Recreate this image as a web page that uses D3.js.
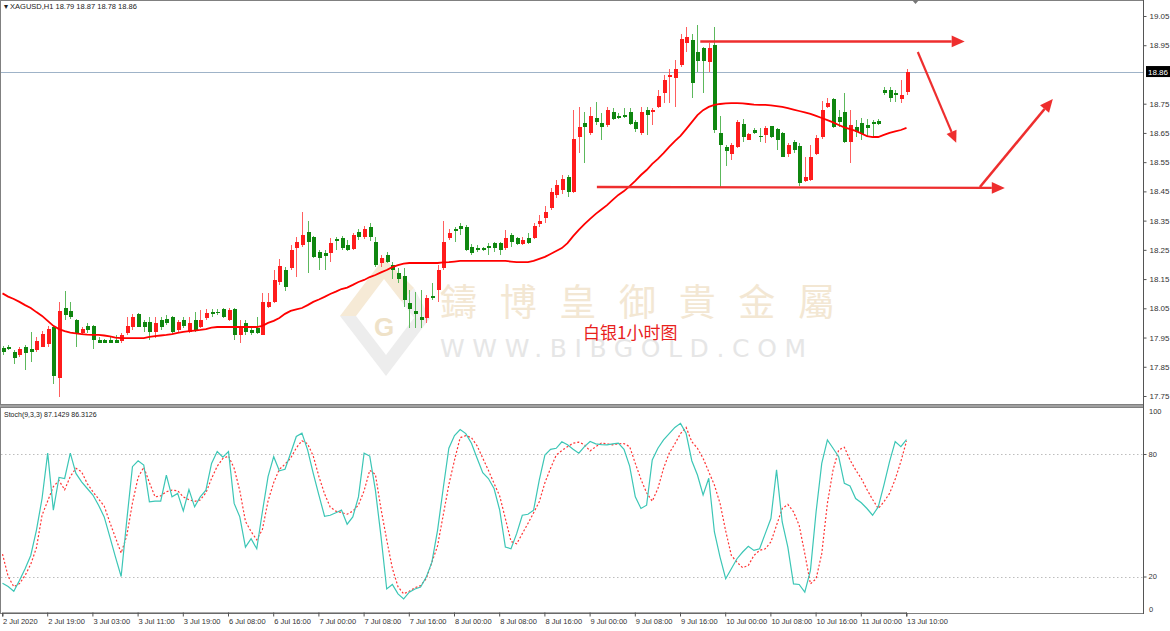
<!DOCTYPE html>
<html>
<head>
<meta charset="utf-8">
<script src="https://cdn.jsdelivr.net/npm/d3@7"></script>
<style>
html, body { margin: 0; padding: 0; background: #fff; }
svg { display: block; font-family: "Liberation Sans", Arial, sans-serif; }
</style>
</head>
<body>
<svg id="chart"></svg>
<script>
// bar labels every 8 bars
const timeLabels = ["2 Jul 2020", "2 Jul 19:00", "3 Jul 03:00", "3 Jul 11:00", "3 Jul 19:00", "6 Jul 08:00",
    "6 Jul 16:00", "7 Jul 00:00", "7 Jul 08:00", "7 Jul 16:00", "8 Jul 00:00", "8 Jul 08:00", "8 Jul 16:00",
    "9 Jul 00:00", "9 Jul 08:00", "9 Jul 16:00", "10 Jul 00:00", "10 Jul 08:00", "10 Jul 16:00", "11 Jul 00:00",
    "13 Jul 10:00"];

const opens = [17.915,17.919,17.902,17.890,17.919,17.911,17.907,17.919,17.928,17.987,
    17.811,18.050,18.041,18.010,17.967,17.990,17.990,17.942,17.942,17.942,
    17.942,17.938,17.967,17.985,18.029,18.004,18.002,17.970,18.010,18.012,
    18.021,17.976,18.010,17.970,18.010,17.987,18.018,18.039,18.039,18.048,
    18.010,18.048,17.959,18.001,17.976,17.982,17.959,18.056,18.073,18.140,
    18.181,18.187,18.255,18.267,18.310,18.295,18.244,18.238,18.238,18.286,
    18.289,18.267,18.252,18.312,18.295,18.329,18.278,18.204,18.232,18.198,
    18.172,18.161,18.069,18.041,18.021,18.016,18.092,18.113,18.187,18.289,
    18.320,18.332,18.329,18.261,18.255,18.258,18.263,18.272,18.272,18.255,
    18.301,18.289,18.270,18.289,18.289,18.338,18.358,18.392,18.438,18.455,
    18.500,18.449,18.637,18.683,18.649,18.700,18.683,18.677,18.720,18.708,
    18.711,18.723,18.689,18.649,18.729,18.720,18.737,18.786,18.840,18.837,
    18.882,18.959,18.968,18.928,18.940,18.891,18.951,18.651,18.601,18.578,
    18.601,18.681,18.626,18.660,18.640,18.643,18.672,18.662,18.649,18.578,
    18.620,18.605,18.487,18.489,18.578,18.635,18.740,18.765,18.706,18.720,
    18.620,18.671,18.683,18.677,18.689,18.692,18.797,18.797,18.786,18.765,
    18.790];
const highs = [17.921,17.925,17.907,17.917,17.925,17.970,17.953,17.972,17.990,17.990,
    18.073,18.110,18.073,18.012,17.987,18.001,17.993,17.953,17.945,17.953,
    17.959,17.964,18.021,18.031,18.033,18.010,18.021,18.019,18.021,18.027,
    18.024,18.010,18.021,18.021,18.039,18.044,18.047,18.047,18.048,18.050,
    18.050,18.050,18.010,18.010,17.982,18.021,18.101,18.101,18.181,18.220,
    18.190,18.266,18.295,18.381,18.350,18.298,18.249,18.249,18.289,18.295,
    18.298,18.284,18.309,18.323,18.332,18.341,18.295,18.232,18.244,18.209,
    18.187,18.187,18.113,18.107,18.113,18.095,18.135,18.198,18.350,18.323,
    18.327,18.341,18.335,18.269,18.267,18.261,18.272,18.278,18.278,18.318,
    18.309,18.295,18.295,18.309,18.341,18.369,18.400,18.460,18.489,18.506,
    18.506,18.728,18.738,18.723,18.740,18.757,18.717,18.740,18.734,18.717,
    18.734,18.734,18.694,18.740,18.740,18.734,18.797,18.848,18.868,18.900,
    18.988,19.013,18.988,19.019,18.945,18.959,19.013,18.708,18.609,18.614,
    18.694,18.697,18.649,18.666,18.666,18.672,18.674,18.666,18.654,18.617,
    18.626,18.614,18.569,18.609,18.643,18.760,18.768,18.768,18.728,18.788,
    18.728,18.694,18.700,18.697,18.694,18.697,18.808,18.808,18.797,18.831,
    18.870];
const lows = [17.890,17.907,17.860,17.882,17.839,17.867,17.902,17.917,17.919,17.791,
    17.748,18.010,18.012,17.919,17.959,17.964,17.910,17.930,17.930,17.930,
    17.930,17.933,17.959,17.976,17.985,17.970,17.942,17.947,17.976,17.993,
    17.964,17.970,17.982,17.964,17.970,17.982,18.010,18.021,18.027,18.016,
    18.008,17.942,17.933,17.959,17.959,17.962,17.959,18.050,18.067,18.130,
    18.110,18.181,18.158,18.259,18.170,18.221,18.181,18.181,18.209,18.249,
    18.249,18.247,18.249,18.284,18.286,18.281,18.190,18.192,18.204,18.149,
    18.135,18.055,17.982,17.982,17.982,17.999,18.078,18.073,18.181,18.284,
    18.278,18.301,18.247,18.232,18.241,18.247,18.232,18.244,18.232,18.249,
    18.261,18.267,18.267,18.270,18.286,18.329,18.341,18.386,18.426,18.440,
    18.430,18.443,18.583,18.548,18.643,18.677,18.626,18.671,18.694,18.697,
    18.700,18.677,18.654,18.643,18.643,18.677,18.734,18.751,18.751,18.737,
    18.877,18.928,18.768,18.860,18.788,18.860,18.649,18.460,18.537,18.557,
    18.597,18.620,18.626,18.646,18.620,18.614,18.632,18.592,18.567,18.569,
    18.580,18.468,18.483,18.487,18.574,18.628,18.734,18.666,18.671,18.617,
    18.546,18.635,18.626,18.635,18.632,18.677,18.780,18.757,18.757,18.751,
    18.780];
const closes = [17.902,17.910,17.879,17.910,17.898,17.899,17.938,17.961,17.978,17.819,
    18.041,18.027,18.021,17.964,17.979,17.976,17.942,17.933,17.933,17.933,
    17.933,17.959,17.990,18.021,17.987,17.987,17.970,18.001,17.987,17.999,
    17.970,18.004,17.990,18.001,17.976,18.010,18.033,18.029,18.035,18.021,
    18.044,17.959,17.987,17.970,17.964,17.967,18.073,18.073,18.147,18.195,
    18.124,18.249,18.278,18.301,18.278,18.227,18.221,18.230,18.272,18.281,
    18.255,18.249,18.301,18.293,18.320,18.295,18.198,18.221,18.210,18.181,
    18.149,18.078,18.046,18.031,18.010,18.084,18.088,18.181,18.278,18.309,
    18.316,18.320,18.249,18.238,18.249,18.251,18.259,18.255,18.249,18.289,
    18.278,18.270,18.284,18.272,18.332,18.350,18.381,18.449,18.472,18.491,
    18.449,18.630,18.671,18.671,18.708,18.689,18.671,18.729,18.697,18.700,
    18.706,18.680,18.663,18.720,18.711,18.729,18.778,18.831,18.848,18.868,
    18.970,18.979,18.820,18.897,18.897,18.940,18.660,18.609,18.589,18.609,
    18.689,18.637,18.646,18.649,18.635,18.666,18.637,18.626,18.569,18.609,
    18.592,18.478,18.500,18.569,18.632,18.728,18.751,18.671,18.689,18.620,
    18.677,18.654,18.646,18.666,18.681,18.681,18.786,18.768,18.782,18.780,
    18.860];

// moving average
const maValues = [18.101,18.090,18.082,18.072,18.061,18.051,18.037,18.024,18.007,17.990,
    17.979,17.972,17.967,17.964,17.962,17.960,17.959,17.959,17.957,17.954,
    17.950,17.948,17.948,17.948,17.948,17.948,17.952,17.955,17.957,17.959,
    17.962,17.966,17.969,17.972,17.974,17.976,17.979,17.984,17.986,17.986,
    17.986,17.986,17.986,17.986,17.986,17.986,17.990,18.000,18.007,18.017,
    18.031,18.041,18.046,18.051,18.061,18.072,18.080,18.089,18.099,18.107,
    18.116,18.121,18.130,18.140,18.147,18.157,18.164,18.173,18.181,18.191,
    18.198,18.203,18.205,18.205,18.205,18.205,18.205,18.205,18.207,18.208,
    18.210,18.212,18.212,18.212,18.212,18.212,18.212,18.212,18.212,18.212,
    18.210,18.208,18.208,18.208,18.212,18.219,18.226,18.236,18.246,18.256,
    18.273,18.297,18.318,18.338,18.356,18.373,18.388,18.403,18.421,18.438,
    18.451,18.468,18.486,18.506,18.523,18.544,18.561,18.581,18.602,18.622,
    18.640,18.663,18.687,18.711,18.728,18.739,18.746,18.749,18.751,18.752,
    18.752,18.751,18.749,18.747,18.746,18.746,18.744,18.742,18.739,18.735,
    18.730,18.725,18.720,18.715,18.708,18.701,18.694,18.686,18.677,18.669,
    18.663,18.657,18.648,18.639,18.636,18.636,18.643,18.650,18.655,18.660,
    18.667];

// Stoch(9,3,3) main and signal
const stochK = [16.7,15.1,12.8,18.0,23.8,30.3,42.6,58.2,80.4,52.5,
    68.5,68.0,80.4,70.5,66.4,63.1,59.9,54.9,49.2,39.4,
    29.5,20.0,47.6,73.8,76.7,74.6,56.6,56.9,56.9,69.7,
    59.0,60.7,52.1,62.6,54.1,59.0,62.3,75.4,81.2,78.4,
    81.2,55.8,49.2,34.4,38.5,33.6,51.7,68.9,78.7,71.8,
    72.5,80.4,88.6,90.2,82.0,70.5,59.9,49.5,50.0,51.2,
    52.5,45.6,49.2,59.0,80.4,79.0,62.3,39.4,13.9,16.1,
    11.5,9.0,12.3,13.9,14.8,19.7,27.0,42.6,63.1,82.8,
    89.0,92.0,90.0,85.3,77.9,70.8,68.0,63.1,52.5,34.4,
    33.6,41.0,50.0,50.5,52.5,67.2,79.5,82.3,82.8,86.0,
    84.5,82.3,80.4,83.6,86.1,85.0,84.6,84.5,85.0,85.3,
    82.3,74.1,59.0,53.3,54.9,77.1,82.8,86.9,90.0,93.0,
    95.0,90.0,76.7,69.7,59.9,68.1,41.8,29.5,18.9,23.8,
    28.7,32.0,34.8,32.8,33.6,41.0,48.4,72.2,46.7,34.4,
    16.4,16.1,12.3,23.0,51.7,75.4,86.9,82.8,78.7,65.6,
    64.3,58.2,56.1,53.3,50.0,54.1,64.8,76.3,86.1,83.6,
    87.1];
const stochD = [31.0,20.0,15.0,16.5,20.5,26.0,34.0,50.0,57.0,64.0,
    67.0,62.5,69.0,73.0,71.3,65.5,61.5,58.0,54.5,46.5,
    39.0,31.5,40.0,56.0,68.5,73.5,66.0,59.0,59.5,61.5,
    62.3,62.0,59.0,57.6,56.8,57.5,61.0,68.0,74.0,77.8,
    79.0,73.0,62.0,47.0,42.0,38.0,43.0,57.0,66.0,72.5,
    75.0,78.0,83.0,86.5,85.0,79.0,69.0,60.5,54.0,52.0,
    51.3,50.5,52.0,55.0,62.0,72.0,70.0,53.0,38.0,24.0,
    15.0,11.5,12.8,14.5,15.5,19.0,27.0,35.0,50.0,65.0,
    77.0,88.0,89.0,88.0,84.0,78.0,72.0,65.6,59.4,48.4,
    37.2,36.0,41.0,46.0,51.2,56.6,65.9,73.0,79.4,81.7,
    83.6,85.3,85.8,84.6,81.5,83.6,85.3,85.0,84.5,85.0,
    85.1,83.6,75.4,67.6,61.0,56.9,63.1,73.0,80.4,85.0,
    90.0,93.0,86.0,82.8,77.9,71.3,64.8,55.8,42.3,30.3,
    27.0,24.3,25.4,30.3,32.8,33.6,36.9,45.1,53.3,55.3,
    51.7,45.1,31.2,16.4,18.9,31.2,55.8,72.2,82.0,83.3,
    77.1,72.2,68.0,62.6,57.7,53.3,56.6,60.7,67.6,76.3,
    86.3];

const priceTicks = [19.05, 18.95, 18.75, 18.65, 18.55, 18.45, 18.35, 18.25, 18.15, 18.05, 17.95, 17.85, 17.75];
const stochLevels = [20, 80];
const stochEdgeLabels = [100, 0];
const stochHeader = [87.1429, 86.3126];
const lastPrice = 18.86;

// hand-drawn annotations, [bar, price] pairs
const arrowTop = [[123.5, 18.963], [170.3, 18.963]];
const arrowDown = [[162.0, 18.927], [168.8, 18.616]];
const supportLine = [[105.2, 18.465], [177.4, 18.462]];
const arrowUp = [[173.0, 18.465], [185.9, 18.766]];

const W = 1170, H = 631;
const plotRight = 1143;
const mainBottom = 404;     // bottom of the price pane
const subTop = 407;         // top of the stochastic pane
const subBottom = 614;

const svg = d3.select("#chart").attr("width", W).attr("height", H);

const x = d3.scaleLinear().domain([0, 160]).range([2.5, 906.5]);
const y = d3.scaleLinear().domain([17.75, 19.05]).range([396, 16]);
const ys = d3.scaleLinear().domain([20, 80]).range([576.5, 454]);

const upCol = "#ff1c1c", upWick = "#ff5f5f";
const dnCol = "#0f860f", dnWick = "#5cb85c";
const arrowCol = "#ee2e2e";

// ---- watermark (behind everything)
const wm = svg.append("g");
// diamond logo: beige upper-left edges, grey lower-right edges
wm.append("path")
    .attr("d", "M384,258 L340,316 L356,316 L384,279 L402,302 L414,288 Z")
    .attr("fill", "#f6ead6");
wm.append("path")
    .attr("d", "M340,316 L386,376 L430,318 L414,318 L386,355 L356,316 Z")
    .attr("fill", "#ededed");
wm.append("path")
    .attr("d", "M402,302 L414,288 L430,318 L414,318 Z")
    .attr("fill", "#f0f0f0");
wm.append("text")
    .attr("x", 384).attr("y", 336)
    .attr("text-anchor", "middle")
    .style("font-size", "26px").style("font-weight", "bold")
    .style("fill", "#efe2c8")
    .text("G");
wm.append("text")
    .attr("x", 440).attr("y", 316)
    .attr("textLength", 395).attr("lengthAdjust", "spacing")
    .style("font-family", "'Noto Sans CJK TC', 'Noto Sans CJK SC', sans-serif")
    .style("font-size", "37px")
    .style("fill", "#f3e7d3")
    .text("鑄博皇御貴金屬");
wm.append("text")
    .attr("x", 440).attr("y", 357)
    .attr("textLength", 366).attr("lengthAdjust", "spacing")
    .style("font-family", "'DejaVu Sans', sans-serif")
    .style("font-size", "25px")
    .style("fill", "#e6e6e6")
    .text("WWW.BIBGOLD.COM");

// ---- frames
svg.append("rect").attr("x", 0.5).attr("y", 0.5).attr("width", plotRight).attr("height", mainBottom)
    .attr("fill", "none").attr("stroke", "#808080");
svg.append("rect").attr("x", 0.5).attr("y", subTop + 0.5).attr("width", plotRight).attr("height", subBottom - subTop - 1)
    .attr("fill", "none").attr("stroke", "#808080");
svg.append("line").attr("x1", 0).attr("x2", plotRight).attr("y1", (mainBottom + subTop) / 2 + 0.5).attr("y2", (mainBottom + subTop) / 2 + 0.5)
    .attr("stroke", "#a0a0a0").attr("stroke-width", 2);

// ---- last price line
svg.append("line")
    .attr("x1", 1).attr("x2", plotRight)
    .attr("y1", Math.round(y(lastPrice)) + 0.5).attr("y2", Math.round(y(lastPrice)) + 0.5)
    .attr("stroke", "#9fb3c8").attr("stroke-width", 1);

// ---- candles
const idx = d3.range(opens.length);
const candles = svg.append("g").attr("shape-rendering", "crispEdges");
candles.selectAll("line")
    .data(idx)
    .join("line")
    .attr("x1", i => Math.round(x(i)) + 0.5)
    .attr("x2", i => Math.round(x(i)) + 0.5)
    .attr("y1", i => y(highs[i]))
    .attr("y2", i => y(lows[i]))
    .attr("stroke", i => closes[i] >= opens[i] ? upWick : dnWick);
candles.selectAll("rect")
    .data(idx)
    .join("rect")
    .attr("x", i => Math.round(x(i)) - 1)
    .attr("width", 4)
    .attr("y", i => y(Math.max(opens[i], closes[i])))
    .attr("height", i => Math.max(1.5, Math.abs(y(opens[i]) - y(closes[i]))))
    .attr("fill", i => closes[i] >= opens[i] ? upCol : dnCol);

// ---- moving average
svg.append("path")
    .datum(maValues)
    .attr("fill", "none")
    .attr("stroke", "#ff0000")
    .attr("stroke-width", 1.8)
    .attr("d", d3.line().x((d, i) => x(i)).y(d => y(d)));

// ---- annotations
function arrow(pts, width, head) {
    const [p0, p1] = pts.map(p => [x(p[0]), y(p[1])]);
    const ang = Math.atan2(p1[1] - p0[1], p1[0] - p0[0]);
    const bx = p1[0] - head * Math.cos(ang), by = p1[1] - head * Math.sin(ang);
    svg.append("line")
        .attr("x1", p0[0]).attr("y1", p0[1]).attr("x2", bx).attr("y2", by)
        .attr("stroke", arrowCol).attr("stroke-width", width);
    const hw = head * 0.45;
    const px = -Math.sin(ang) * hw, py = Math.cos(ang) * hw;
    svg.append("polygon")
        .attr("points", [[p1[0], p1[1]], [bx + px, by + py], [bx - px, by - py]].join(" "))
        .attr("fill", arrowCol);
}
arrow(arrowTop, 2.6, 13);
arrow(arrowDown, 2.2, 12);
arrow(supportLine, 2.4, 13);
arrow(arrowUp, 2.6, 13);

svg.append("text")
    .attr("x", 583).attr("y", 339)
    .style("font-family", "'Noto Sans CJK SC', sans-serif")
    .style("font-size", "17px")
    .style("fill", "#e8211c")
    .text("白银1小时图");

// ---- price axis
const yAxis = svg.append("g")
    .attr("transform", `translate(${plotRight + 0.5},0)`)
    .call(d3.axisRight(y).tickValues(priceTicks).tickSize(3).tickFormat(d3.format(".2f")));
yAxis.select(".domain").remove();
yAxis.selectAll("line").attr("stroke", "#555");
yAxis.selectAll("text").attr("x", 6).style("font-size", "8px").style("fill", "#333")
    .style("font-family", "'Liberation Sans', Arial, sans-serif");

svg.append("line").attr("x1", plotRight + 0.5).attr("x2", plotRight + 0.5).attr("y1", 0).attr("y2", subBottom)
    .attr("stroke", "#555");

// last price tag
const ly = y(lastPrice);
svg.append("rect").attr("x", plotRight + 3).attr("y", ly - 5.5).attr("width", 24).attr("height", 11).attr("fill", "#000");
svg.append("text").attr("x", plotRight + 5).attr("y", ly + 3)
    .style("font-size", "8px").style("fill", "#fff").text(lastPrice.toFixed(2));

// ---- stochastic panel
const sub = svg.append("g");
sub.append("clipPath").attr("id", "subClip")
    .append("rect").attr("x", 1).attr("y", subTop + 1).attr("width", plotRight - 1).attr("height", subBottom - subTop - 2);

sub.selectAll("line.level")
    .data(stochLevels)
    .join("line")
    .attr("class", "level")
    .attr("x1", 1).attr("x2", plotRight)
    .attr("y1", d => Math.round(ys(d)) + 0.5).attr("y2", d => Math.round(ys(d)) + 0.5)
    .attr("stroke", "#bdbdbd").attr("stroke-dasharray", "1.5,2.5");

const lines = sub.append("g").attr("clip-path", "url(#subClip)");
lines.append("path")
    .datum(stochD)
    .attr("fill", "none").attr("stroke", "#ff3535").attr("stroke-width", 1.2)
    .attr("stroke-dasharray", "2,2")
    .attr("d", d3.line().x((d, i) => x(i)).y(d => ys(d)));
lines.append("path")
    .datum(stochK)
    .attr("fill", "none").attr("stroke", "#3cc6b6").attr("stroke-width", 1.2)
    .attr("d", d3.line().x((d, i) => x(i)).y(d => ys(d)));

const sAxis = svg.append("g")
    .attr("transform", `translate(${plotRight + 0.5},0)`)
    .call(d3.axisRight(ys).tickValues(stochLevels).tickSize(3).tickFormat(d3.format("d")));
sAxis.select(".domain").remove();
sAxis.selectAll("line").attr("stroke", "#555");
sAxis.selectAll("text").attr("x", 5).style("font-size", "7.5px").style("fill", "#333")
    .style("font-family", "'Liberation Sans', Arial, sans-serif");

// 100 / 0 sit at the pane edges
svg.append("g").selectAll("text")
    .data(stochEdgeLabels)
    .join("text")
    .attr("x", plotRight + 6)
    .attr("y", d => d === 100 ? subTop + 7 : subBottom - 2)
    .style("font-size", "7.5px").style("fill", "#333")
    .text(d => d);

svg.append("text").attr("x", 4).attr("y", subTop + 10)
    .style("font-size", "7px").style("fill", "#222")
    .text(`Stoch(9,3,3) ${stochHeader[0].toFixed(4)} ${stochHeader[1].toFixed(4)}`);

// ---- time axis
const xAxis = svg.append("g")
    .attr("transform", `translate(0,${subBottom - 1.5})`)
    .call(d3.axisBottom(x).tickValues(d3.range(0, 161, 8)).tickSize(4)
        .tickFormat((d, i) => timeLabels[i]));
xAxis.select(".domain").attr("stroke", "#555");
xAxis.selectAll(".tick line").attr("stroke", "#555").attr("transform", "translate(-0.5,0)");
xAxis.selectAll("text")
    .attr("text-anchor", "start").attr("x", 0).attr("y", 6)
    .style("font-size", "7.5px").style("fill", "#333")
    .style("font-family", "'Liberation Sans', Arial, sans-serif");

// ---- header
svg.append("text").attr("x", 4).attr("y", 9)
    .style("font-size", "7.5px").style("fill", "#222")
    .text(`\u25BE XAGUSD,H1  ${opens[160].toFixed(2)} ${highs[160].toFixed(2)} ${lows[160].toFixed(2)} ${closes[160].toFixed(2)}`);

// chart shift marker
svg.append("polygon").attr("points", "912,0 919,0 915.5,4").attr("fill", "#777");
</script>
</body>
</html>
